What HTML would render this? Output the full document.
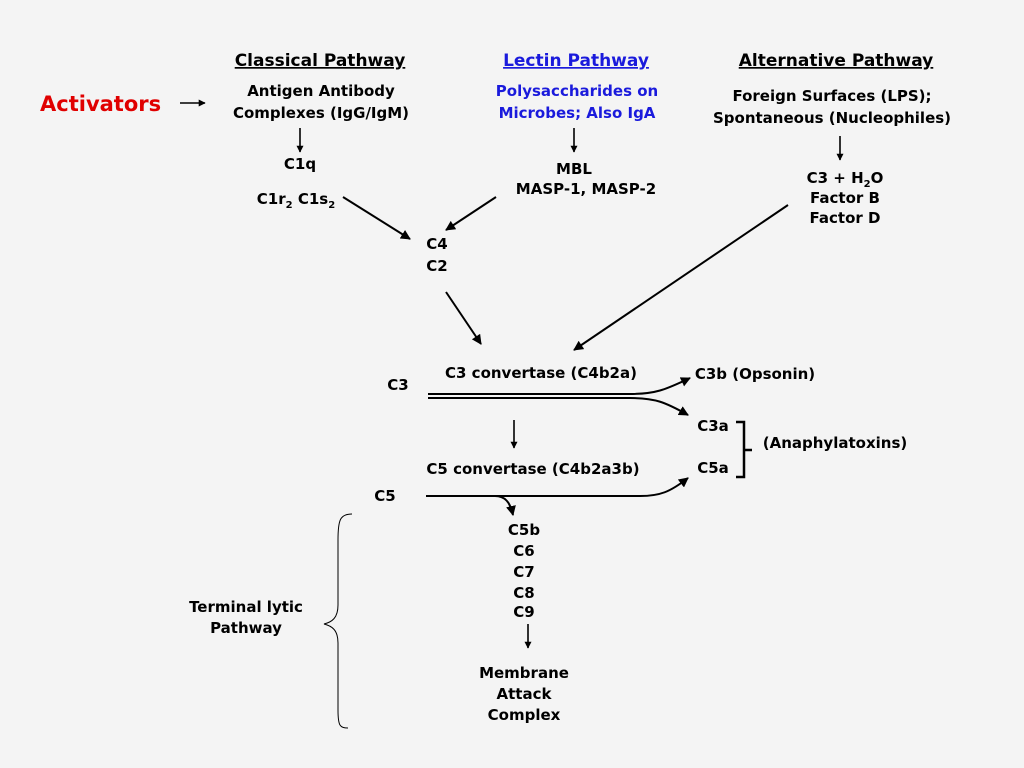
<!DOCTYPE html>
<html><head><meta charset="utf-8"><style>
html,body{margin:0;padding:0;background:#f4f4f4;}
svg{display:block;}
text{font-family:"DejaVu Sans","Liberation Sans",sans-serif;font-weight:bold;fill:#000;}
</style></head><body>
<svg width="1024" height="768" viewBox="0 0 1024 768" xmlns="http://www.w3.org/2000/svg">
<defs>
<marker id="a" viewBox="0 0 10 10" refX="9" refY="5" markerWidth="7" markerHeight="7" orient="auto" markerUnits="userSpaceOnUse"><path d="M0,0 L10,5 L0,10 z" fill="#000"/></marker>
<marker id="b" viewBox="0 0 10 10" refX="9" refY="5" markerWidth="10" markerHeight="10" orient="auto" markerUnits="userSpaceOnUse"><path d="M0,0 L10,5 L0,10 z" fill="#000"/></marker>
</defs>
<rect width="1024" height="768" fill="#f4f4f4"/>
<g font-size="17" text-anchor="middle">
<text x="320" y="66" text-decoration="underline">Classical Pathway</text>
<text x="576" y="66" fill="#1a1adc" style="fill:#1a1adc" text-decoration="underline">Lectin Pathway</text>
<text x="836" y="66" text-decoration="underline">Alternative Pathway</text>
</g>
<text x="40" y="111" font-size="21" style="fill:#e00000">Activators</text>
<line x1="180" y1="103" x2="205" y2="103" stroke="#000" stroke-width="1.5" marker-end="url(#a)"/>
<g font-size="15" text-anchor="middle">
<text x="321" y="96">Antigen Antibody</text>
<text x="321" y="118">Complexes (IgG/IgM)</text>
<text x="577" y="96" style="fill:#1a1adc">Polysaccharides on</text>
<text x="577" y="118" style="fill:#1a1adc">Microbes; Also IgA</text>
<text x="832" y="101">Foreign Surfaces (LPS);</text>
<text x="832" y="123">Spontaneous (Nucleophiles)</text>
<text x="300" y="169">C1q</text>
<text x="296" y="204">C1r<tspan font-size="10" dy="4">2</tspan><tspan dy="-4"> C1s</tspan><tspan font-size="10" dy="4">2</tspan></text>
<text x="574" y="174">MBL</text>
<text x="586" y="194">MASP-1, MASP-2</text>
<text x="845" y="183">C3 + H<tspan font-size="10" dy="4">2</tspan><tspan dy="-4">O</tspan></text>
<text x="845" y="203">Factor B</text>
<text x="845" y="223">Factor D</text>
<text x="437" y="249">C4</text>
<text x="437" y="271">C2</text>
<text x="541" y="378">C3 convertase (C4b2a)</text>
<text x="398" y="390">C3</text>
<text x="755" y="379">C3b (Opsonin)</text>
<text x="713" y="431">C3a</text>
<text x="713" y="473">C5a</text>
<text x="835" y="448">(Anaphylatoxins)</text>
<text x="533" y="474">C5 convertase (C4b2a3b)</text>
<text x="385" y="501">C5</text>
<text x="524" y="535">C5b</text>
<text x="524" y="556">C6</text>
<text x="524" y="577">C7</text>
<text x="524" y="598">C8</text>
<text x="524" y="617">C9</text>
<text x="246" y="612">Terminal lytic</text>
<text x="246" y="633">Pathway</text>
<text x="524" y="678">Membrane</text>
<text x="524" y="699">Attack</text>
<text x="524" y="720">Complex</text>
</g>
<g stroke="#000" stroke-width="1.6" fill="none">
<line x1="300" y1="128" x2="300" y2="152" marker-end="url(#a)"/>
<line x1="574" y1="128" x2="574" y2="152" marker-end="url(#a)"/>
<line x1="840" y1="136" x2="840" y2="160" marker-end="url(#a)"/>
<line x1="343" y1="197" x2="410" y2="239" stroke-width="2" marker-end="url(#b)"/>
<line x1="496" y1="197" x2="446" y2="230" stroke-width="2" marker-end="url(#b)"/>
<line x1="446" y1="292" x2="481" y2="344" stroke-width="2" marker-end="url(#b)"/>
<line x1="788" y1="205" x2="574" y2="350" stroke-width="2" marker-end="url(#b)"/>
<path d="M428,394 L630,394 C655,394 665,390 690,378" stroke-width="2" marker-end="url(#b)"/>
<path d="M428,398 L630,398 C655,398 665,402 688,415" stroke-width="2" marker-end="url(#b)"/>
<line x1="514" y1="420" x2="514" y2="448" marker-end="url(#a)"/>
<path d="M426,496 L640,496 C660,496 670,492 688,478" stroke-width="2" marker-end="url(#b)"/>
<path d="M426,496 L495,496 C505,496 510,502 513,515" stroke-width="2" marker-end="url(#b)"/>
<line x1="528" y1="624" x2="528" y2="648" marker-end="url(#a)"/>
<path d="M736,422 L744,422 L744,477 L736,477 M744,450 L752,450" stroke-width="2.5"/>
<path d="M352,514 C340,514 338,520 338,540 L338,605 C338,618 332,622 324,624 C332,626 338,630 338,643 L338,710 C338,726 340,728 348,728" stroke-width="1"/>
</g>
</svg>
</body></html>
